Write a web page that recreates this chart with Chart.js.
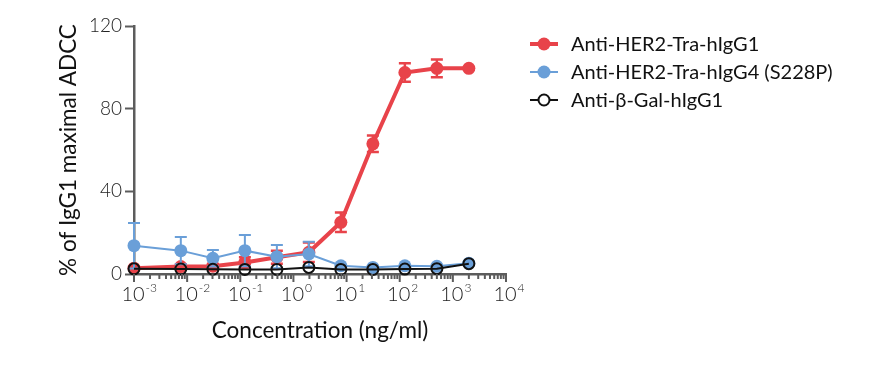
<!DOCTYPE html>
<html>
<head>
<meta charset="utf-8">
<script src="https://cdn.jsdelivr.net/npm/chart.js@4.4.1/dist/chart.umd.min.js"></script>
<style>
  html, body { margin: 0; padding: 0; background: #fff; }
  #wrap { width: 879px; height: 365px; }
</style>
</head>
<body>
<div id="wrap"><canvas id="adccChart"></canvas></div>
<script>
// concentrations in ng/ml (4-fold dilution series, lowest point at 10^-3)
const concentrations = [0.001, 0.0076, 0.0305, 0.122, 0.488, 1.95, 7.81, 31.25, 125, 500, 2000];
const seriesNames = ['Anti-HER2-Tra-hIgG1', 'Anti-HER2-Tra-hIgG4 (S228P)', 'Anti-\u03b2-Gal-hIgG1'];

const hIgG1Values = [2.8, 3.6, 3.8, 5.6, 8.1, 10.5, 25, 63, 97.5, 99.5, 99.5];
const hIgG1Errors = [0.8, 1.0, 1.0, 2.5, 3.2, 4.7, 4.7, 4.0, 4.5, 4.3, 0.5];
const hIgG4Values = [13.7, 11.3, 7.6, 11.3, 8.4, 9.7, 4.0, 3.2, 4.0, 3.7, 5.2];
const hIgG4Errors = [11, 6.6, 4.0, 7.6, 5.6, 5.9, 0.5, 0.5, 0.5, 0.5, 0.5];
const betaGalValues = [2.5, 2.4, 2.3, 2.2, 2.2, 3.2, 2.2, 2.2, 2.4, 2.6, 5.0];

const yTicks = [0, 40, 80, 120];
const xDecades = [-3, -2, -1, 0, 1, 2, 3, 4];

const RED = '#e8434a';
const BLUE = '#6a9fd8';
const BLACK = '#111111';
const AXIS = '#5c5c5c';

function toPoints(vals) {
  return vals.map((v, i) => ({ x: concentrations[i], y: v }));
}

// error bars, drawn just before each dataset so the points sit on top
const errorBars = {
  id: 'errorBars',
  beforeDatasetDraw(chart, args) {
    const ds = chart.data.datasets[args.index];
    if (!ds.errors) return;
    const xs = chart.scales.x, ys = chart.scales.y, ctx = chart.ctx;
    ctx.save();
    ctx.strokeStyle = ds.borderColor;
    ctx.lineWidth = ds.errorWidth;
    ds.data.forEach((p, i) => {
      const e = ds.errors[i];
      const px = xs.getPixelForValue(p.x);
      const top = ys.getPixelForValue(p.y + e);
      const bot = ys.getPixelForValue(Math.max(p.y - e, 0));
      ctx.beginPath();
      ctx.moveTo(px, top); ctx.lineTo(px, bot);
      ctx.moveTo(px - 6, top); ctx.lineTo(px + 6, top);
      ctx.moveTo(px - 6, bot); ctx.lineTo(px + 6, bot);
      ctx.stroke();
    });
    ctx.restore();
  }
};

// log x axis ticks and 10^n labels
const logAxis = {
  id: 'logAxis',
  afterDraw(chart) {
    const xs = chart.scales.x, ctx = chart.ctx;
    const y0 = xs.top;
    ctx.save();
    ctx.strokeStyle = AXIS;
    ctx.lineWidth = 2;
    xDecades.forEach((d, k) => {
      const base = Math.pow(10, d);
      const px = xs.getPixelForValue(base);
      ctx.beginPath(); ctx.moveTo(px, y0); ctx.lineTo(px, y0 + 8); ctx.stroke();
      if (k < xDecades.length - 1) {
        for (let m = 2; m <= 9; m++) {
          const mx = xs.getPixelForValue(m * base);
          ctx.beginPath(); ctx.moveTo(mx, y0); ctx.lineTo(mx, y0 + 5); ctx.stroke();
        }
      }
      ctx.fillStyle = '#222';
      ctx.textBaseline = 'alphabetic';
      ctx.textAlign = 'left';
      ctx.font = '300 20px Lato';
      const w = ctx.measureText('10').width;
      const sx = px - w / 2 - 1;
      ctx.fillText('10', sx, 301);
      ctx.font = '300 12px Lato';
      ctx.fillText(String(d), sx + w + 1, 292);
    });
    ctx.restore();
  }
};

const customLegend = {
  id: 'customLegend',
  afterDraw(chart) {
    const ctx = chart.ctx;
    ctx.save();
    chart.data.datasets.forEach((ds, i) => {
      const y = 44 + i * 28;
      ctx.strokeStyle = ds.borderColor;
      ctx.lineWidth = ds.borderWidth;
      ctx.beginPath(); ctx.moveTo(530, y); ctx.lineTo(558, y); ctx.stroke();
      ctx.beginPath();
      ctx.arc(544, y, ds.pointRadius, 0, Math.PI * 2);
      if (ds.pointBorderWidth) {
        ctx.fillStyle = '#fff'; ctx.fill();
        ctx.lineWidth = ds.pointBorderWidth; ctx.strokeStyle = ds.pointBorderColor; ctx.stroke();
      } else {
        ctx.fillStyle = ds.pointBackgroundColor; ctx.fill();
      }
      ctx.fillStyle = '#111';
      ctx.font = '20px Lato';
      ctx.textBaseline = 'middle';
      ctx.fillText(ds.label, 571, y + 1);
    });
    ctx.restore();
  }
};

new Chart(document.getElementById('adccChart'), {
  type: 'line',
  data: {
    datasets: [
      {
        label: seriesNames[0], data: toPoints(hIgG1Values), errors: hIgG1Errors, errorWidth: 2.5,
        borderColor: RED, borderWidth: 4, pointRadius: 6.5, pointBackgroundColor: RED,
        pointBorderWidth: 0, order: 3, clip: false
      },
      {
        label: seriesNames[1], data: toPoints(hIgG4Values), errors: hIgG4Errors, errorWidth: 2,
        borderColor: BLUE, borderWidth: 2, pointRadius: 6.5, pointBackgroundColor: BLUE,
        pointBorderWidth: 0, order: 2, clip: false
      },
      {
        label: seriesNames[2], data: toPoints(betaGalValues),
        borderColor: BLACK, borderWidth: 2, pointRadius: 5.5, pointBackgroundColor: 'rgba(0,0,0,0)',
        pointBorderColor: BLACK, pointBorderWidth: 2, order: 1, clip: false
      }
    ]
  },
  options: {
    responsive: true,
    maintainAspectRatio: false,
    animation: false,
    events: [],
    elements: { line: { tension: 0 } },
    layout: { padding: { left: 55, right: 373, top: 26, bottom: 0 } },
    plugins: { legend: { display: false }, tooltip: { enabled: false } },
    scales: {
      x: {
        type: 'logarithmic',
        min: 0.001,
        max: 10000,
        ticks: { display: false },
        grid: { display: false },
        border: { display: true, color: AXIS, width: 2.5 },
        title: {
          display: true, text: 'Concentration (ng/ml)', color: '#111',
          font: { family: 'Lato', size: 22.5 }, padding: { top: 40, bottom: 21 }
        },
        afterFit(scale) { scale.height = 91; }
      },
      y: {
        min: 0,
        max: 120,
        afterBuildTicks(scale) { scale.ticks = yTicks.map(v => ({ value: v })); },
        ticks: { color: '#222', font: { family: 'Lato', size: 19, weight: '300' }, padding: 3 },
        grid: { drawOnChartArea: false, drawTicks: true, tickLength: 9, tickWidth: 2, tickColor: AXIS },
        border: { display: true, color: AXIS, width: 2.5 },
        title: {
          display: true, text: '% of IgG1 maximal ADCC', color: '#111',
          font: { family: 'Lato', size: 22.5 }, padding: { top: 0, bottom: 10 }
        },
        afterFit(scale) { scale.width = 79; }
      }
    }
  },
  plugins: [errorBars, logAxis, customLegend]
});
</script>
</body>
</html>
